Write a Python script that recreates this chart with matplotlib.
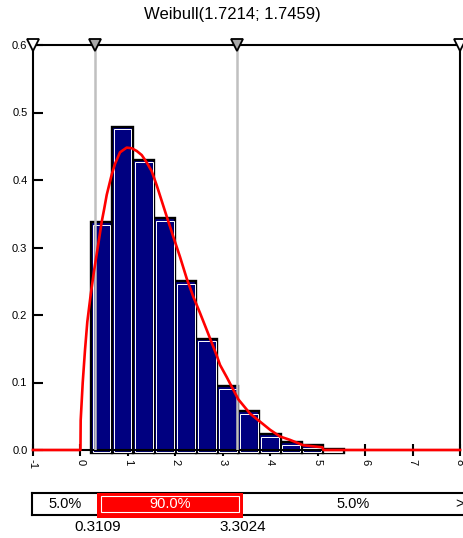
import numpy as np
import matplotlib
matplotlib.use("Agg")
import matplotlib.pyplot as plt
from matplotlib.patches import Rectangle
import matplotlib.transforms as mtransforms

plt.rcParams['font.family'] = ['Liberation Sans', 'DejaVu Sans']
plt.rcParams['axes.unicode_minus'] = False

# histogram
bin_left = [0.23, 0.673, 1.116, 1.559, 2.002, 2.445, 2.888, 3.331, 3.774, 4.217, 4.66, 5.103]
bin_width = 0.443
bin_height = [0.338, 0.479, 0.430, 0.343, 0.250, 0.165, 0.095, 0.058, 0.024, 0.012, 0.0074, 0.001]

# fitted density curve
curve_x = [-1.0, 0.0, 0.005, 0.048, 0.096, 0.145, 0.216, 0.286, 0.376, 0.448, 0.500, 0.554,
           0.659, 0.729, 0.834, 0.975, 1.081, 1.186, 1.291, 1.397, 1.502, 1.608, 1.713,
           1.818, 1.957, 2.099, 2.240, 2.379, 2.520, 2.661, 2.872, 2.942, 3.083, 3.328,
           3.574, 3.785, 3.996, 4.206, 4.417, 4.698, 5.10, 5.12, 8.0]
curve_y = [0.0, 0.0, 0.044, 0.100, 0.148, 0.190, 0.230, 0.265, 0.305, 0.338, 0.357, 0.378,
           0.408, 0.424, 0.441, 0.448, 0.447, 0.443, 0.437, 0.426, 0.413, 0.392, 0.369,
           0.346, 0.316, 0.286, 0.254, 0.227, 0.203, 0.178, 0.140, 0.126, 0.108, 0.075,
           0.054, 0.042, 0.030, 0.020, 0.015, 0.007, 0.004, 0.0, 0.0]

title = "Weibull(1.7214; 1.7459)"
q_low, q_high = 0.3109, 3.3024
pct_left, pct_mid, pct_right = "5.0%", "90.0%", "5.0%"
x_ticks = [-1, 0, 1, 2, 3, 4, 5, 6, 7, 8]
y_ticks = [0.0, 0.1, 0.2, 0.3, 0.4, 0.5, 0.6]

W, H = 464, 538
fig = plt.figure(figsize=(W / 100, H / 100), dpi=100)

# main histogram axes
ax = fig.add_axes([33 / W, 1 - 450 / H, 427 / W, 405 / H])
ax.set_xlim(-1, 8)
ax.set_ylim(0, 0.6)

# bars: black outline, thin white inner line, navy fill
bl = np.array(bin_left)
bh = np.array(bin_height)
ax.bar(bl, bh + 0.004, width=bin_width, bottom=-0.004, align='edge',
       color='#000080', edgecolor='black', linewidth=1.7, zorder=2, clip_on=False)
ax.bar(bl + 0.04, np.maximum(bh - 0.0025, 0.0005) + 0.001, width=bin_width - 0.08,
       bottom=-0.0025, align='edge', color='none', edgecolor='white',
       linewidth=0.7, zorder=2.1, clip_on=False)

# percentile lines
for q in (q_low, q_high):
    ax.axvline(q, color='#c0c0c0', lw=1.8, zorder=3)

ax.plot(curve_x, curve_y, color='red', lw=1.9, zorder=4, clip_on=False)

# triangle markers on top edge
ax.plot([-1, 8], [0.6, 0.6], linestyle='none', marker='v', ms=9,
        mfc='white', mec='black', mew=1.3, clip_on=False, zorder=6)
ax.plot([q_low, q_high], [0.6, 0.6], linestyle='none', marker='v', ms=9,
        mfc='#a8a8a8', mec='black', mew=1.3, clip_on=False, zorder=6)

for s in ax.spines.values():
    s.set_linewidth(1.5)

ax.set_xticks(x_ticks)
ax.set_xticklabels([str(t) for t in x_ticks], rotation=270, fontsize=8)
ax.set_yticks(y_ticks)
ax.set_yticklabels(["%.1f" % t for t in y_ticks], fontsize=8)
ax.tick_params(axis='x', direction='inout', length=9, width=1.5, pad=2)
ax.tick_params(axis='y', direction='in', length=7, width=1.5, pad=4)

fig.text(0.5, 1 - 14 / H, title, ha='center', va='center', fontsize=12)

# percentile bar below the chart
bx = fig.add_axes([32 / W, 1 - 515 / H, (W - 32) / W, 22 / H])
bx.set_xlim(-1.033, 7.856)
bx.set_ylim(0, 1)
bx.set_xticks([])
bx.set_yticks([])
bx.spines['right'].set_visible(False)
for s in ('left', 'top', 'bottom'):
    bx.spines[s].set_linewidth(1.5)

tr = mtransforms.blended_transform_factory(bx.transData, bx.transAxes)
bx.add_patch(Rectangle((q_low, -0.14), q_high - q_low, 1.14, transform=tr,
                       facecolor='red', edgecolor='none', clip_on=False, zorder=3))
bx.add_patch(Rectangle((q_low + 0.08, 0.15), q_high - q_low - 0.16, 0.72, transform=tr,
                       facecolor='none', edgecolor='white', lw=0.8, clip_on=False, zorder=4))

bx.text((bx.get_xlim()[0] + q_low) / 2, 0.5, pct_left, transform=tr,
        ha='center', va='center', fontsize=10.5)
bx.text((q_low + q_high) / 2, 0.5, pct_mid, transform=tr,
        ha='center', va='center', fontsize=10.5, color='white', zorder=5)
bx.text((q_high + bx.get_xlim()[1]) / 2, 0.5, pct_right, transform=tr,
        ha='center', va='center', fontsize=10.5)
bx.text(0.99, 0.5, ">", transform=bx.transAxes, ha='center', va='center', fontsize=10.5)

bx.text(q_low, -0.55, "%.4f" % q_low, transform=tr, ha='center', va='center', fontsize=11)
bx.text(q_high, -0.55, "%.4f" % q_high, transform=tr, ha='center', va='center', fontsize=11)

fig.savefig("out.png", dpi=100)
